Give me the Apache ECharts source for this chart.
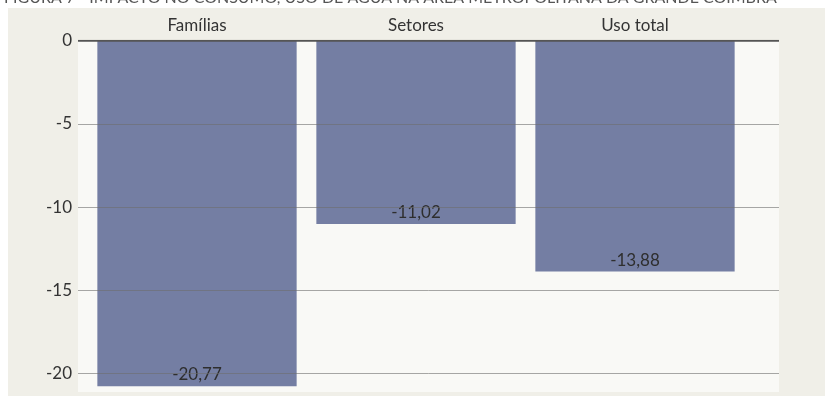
<!DOCTYPE html>
<html>
<head>
<meta charset="utf-8">
<title>Impacto no consumo</title>
<script src="https://cdn.jsdelivr.net/npm/echarts@6/dist/echarts.min.js"></script>
<style>
  html, body { margin: 0; padding: 0; background: #ffffff; }
  #chart { width: 825px; height: 396px; }
</style>
</head>
<body>
<div id="chart"></div>
<script>
// Impacto (%) por categoria de uso
const categories = ['Famílias', 'Setores', 'Uso total'];
const impactValues = [-20.77, -11.02, -13.88];
const yTicks = [0, -5, -10, -15, -20];
const titleText = 'FIGURA 7 - IMPACTO NO CONSUMO, USO DE ÁGUA NA ÁREA METROPOLITANA DA GRANDE COIMBRA';

const FONT = 'Lato, "Open Sans", sans-serif';
const BAR = '#747ea3';

const chart = echarts.init(document.getElementById('chart'), null, { renderer: 'canvas' });

const yCommon = {
  type: 'value',
  min: -25,
  max: 0,
  interval: 5
};

chart.setOption({
  backgroundColor: '#ffffff',
  animation: false,
  graphic: [
    // outer frame
    { type: 'rect', z: -10, shape: { x: 8, y: 8, width: 817, height: 388 }, style: { fill: '#f0efe8' } },
    // plot panel
    { type: 'rect', z: -9, shape: { x: 78, y: 40, width: 701, height: 352 }, style: { fill: '#f9f9f6' } },
    // heading, cut by the top edge
    { type: 'text', z: -8, left: 4, top: -10,
      style: { text: titleText, font: '16px ' + FONT, fill: '#555', letterSpacing: 1.6 } },
    // strip of frame below the panel
    { type: 'rect', z: 20, shape: { x: 8, y: 392, width: 817, height: 4 }, style: { fill: '#f0efe8' } }
  ],
  grid: [
    { left: 78, width: 701, top: 40.7, height: 415.8, outerBoundsMode: 'none', containLabel: false },
    { left: 87.5, width: 657, top: 40.7, height: 415.8, outerBoundsMode: 'none', containLabel: false }
  ],
  xAxis: [
    {
      gridIndex: 0, type: 'value', position: 'top', min: 0, max: 1, z: 6,
      axisLine: { show: false }, axisTick: { show: false }, axisLabel: { show: false },
      splitLine: { show: false }
    },
    {
      gridIndex: 1, type: 'category', position: 'top', data: categories,
      axisLine: { show: false }, axisTick: { show: false },
      axisLabel: { margin: 7, color: '#333', fontFamily: FONT, fontSize: 17 }
    }
  ],
  yAxis: [
    Object.assign({}, yCommon, {
      gridIndex: 0, z: 6,
      axisLine: { show: false }, axisTick: { show: false },
      axisLabel: {
        margin: 6, color: '#333', fontFamily: FONT, fontSize: 17,
        formatter: v => (yTicks.indexOf(v) >= 0 ? String(v) : '')
      },
      splitLine: {
        lineStyle: { color: 'rgba(110,110,110,0.6)', width: 1 }
      }
    }),
    Object.assign({}, yCommon, {
      gridIndex: 1, show: false, splitLine: { show: false }
    })
  ],
  series: [
    {
      type: 'bar',
      xAxisIndex: 1,
      yAxisIndex: 1,
      data: impactValues,
      barWidth: '91%',
      itemStyle: { color: BAR },
      label: {
        show: true,
        position: 'insideBottom',
        distance: 3,
        color: '#2e2e2e',
        fontFamily: FONT,
        fontSize: 17,
        formatter: p => p.value.toFixed(2).replace('.', ',')
      }
    },
    {
      // zero line across the panel
      type: 'line',
      xAxisIndex: 0,
      yAxisIndex: 0,
      data: [[0, 0], [1, 0]],
      symbol: 'none',
      z: 7,
      lineStyle: { color: '#555', width: 2 },
      silent: true
    }
  ]
});
</script>
</body>
</html>
